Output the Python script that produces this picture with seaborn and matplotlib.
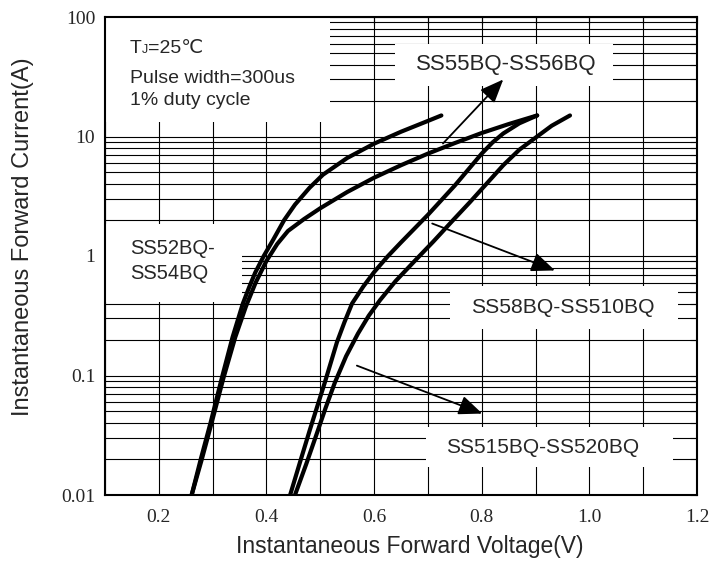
import numpy as np
import pandas as pd
import matplotlib
matplotlib.use("Agg")
import matplotlib.pyplot as plt
import seaborn as sns
from matplotlib.ticker import MultipleLocator, LogLocator, FixedLocator, FixedFormatter, NullFormatter
from matplotlib.patches import Rectangle

# ---------------- data ----------------
series_names = ["SS52BQ-SS54BQ", "SS55BQ-SS56BQ", "SS58BQ-SS510BQ", "SS515BQ-SS520BQ"]

v_52 = [0.261, 0.278, 0.296, 0.317, 0.337, 0.356, 0.368, 0.379, 0.395, 0.413, 0.433,
        0.453, 0.48, 0.505, 0.55, 0.60, 0.65, 0.70, 0.725]
i_52 = [0.01, 0.020, 0.040, 0.095, 0.209, 0.398, 0.55, 0.724, 1.0, 1.38, 2.0,
        2.69, 3.72, 4.79, 6.61, 8.71, 10.96, 13.5, 15.0]

v_55 = [0.261, 0.280, 0.298, 0.320, 0.342, 0.362, 0.38, 0.40, 0.42, 0.44, 0.47,
        0.50, 0.55, 0.60, 0.65, 0.70, 0.75, 0.80, 0.85, 0.903]
i_55 = [0.01, 0.020, 0.040, 0.095, 0.209, 0.38, 0.60, 0.91, 1.26, 1.62, 2.04,
        2.51, 3.43, 4.52, 5.75, 7.19, 8.81, 10.7, 12.7, 15.0]

v_58 = [0.444, 0.462, 0.481, 0.509, 0.531, 0.545, 0.559, 0.58, 0.60, 0.625, 0.65, 0.70,
        0.75, 0.80, 0.82, 0.84, 0.87, 0.903]
i_58 = [0.01, 0.0186, 0.0355, 0.089, 0.19, 0.28, 0.40, 0.556, 0.733, 0.99, 1.30, 2.21,
        3.89, 7.19, 8.91, 10.6, 12.9, 15.0]

v_515 = [0.453, 0.474, 0.494, 0.51, 0.527, 0.548, 0.57, 0.59, 0.611, 0.64, 0.68,
         0.71, 0.747, 0.778, 0.80, 0.84, 0.87, 0.90, 0.93, 0.964]
i_515 = [0.01, 0.0182, 0.0331, 0.0537, 0.087, 0.145, 0.224, 0.316, 0.427, 0.617, 0.955,
         1.32, 2.0, 2.82, 3.63, 5.75, 7.76, 9.77, 12.3, 15.0]

x_ticks = [0.2, 0.4, 0.6, 0.8, 1.0, 1.2]
x_tick_labels = ["0.2", "0.4", "0.6", "0.8", "1.0", "1.2"]
y_ticks = [0.01, 0.1, 1, 10, 100]
y_tick_labels = ["0.01", "0.1", "1", "10", "100"]

# white label boxes (x0, x1, y0, y1) in data units
box_tj = (0.1, 0.518, 13.35, 100)
box_55 = (0.639, 1.044, 26.7, 59.9)
box_52 = (0.1, 0.355, 0.416, 1.84)
box_58 = (0.741, 1.165, 0.247, 0.556)
box_515 = (0.697, 1.156, 0.017, 0.0374)

# arrows: (start, tip)
arrow_55 = ((0.728, 8.74), (0.840, 30.0))
arrow_58 = ((0.708, 1.87), (0.936, 0.757))
arrow_515 = ((0.568, 0.121), (0.801, 0.048))

# ---------------- styling ----------------
sns.set_style("white")
plt.rcParams["font.family"] = ["Liberation Sans", "DejaVu Sans"]

fig = plt.figure(figsize=(7.12, 5.63), dpi=100)
ax = fig.add_axes([105 / 712, 68 / 563, 592 / 712, 478 / 563])

frames = []
for name, v, i in [(series_names[0], v_52, i_52), (series_names[1], v_55, i_55),
                   (series_names[2], v_58, i_58), (series_names[3], v_515, i_515)]:
    frames.append(pd.DataFrame({"V": v, "I": i, "series": name}))
df = pd.concat(frames, ignore_index=True)

ax.set_yscale("log")
sns.lineplot(data=df, x="V", y="I", hue="series", palette=["black"] * 4,
             lw=3.0, legend=False, sort=False, estimator=None, ax=ax, zorder=3,
             solid_capstyle="round", solid_joinstyle="round")

ax.set_xlim(0.1, 1.2)
ax.set_ylim(0.01, 100)

ax.xaxis.set_major_locator(FixedLocator(x_ticks))
ax.xaxis.set_major_formatter(FixedFormatter(x_tick_labels))
ax.xaxis.set_minor_locator(MultipleLocator(0.1))
ax.yaxis.set_major_locator(FixedLocator(y_ticks))
ax.yaxis.set_major_formatter(FixedFormatter(y_tick_labels))
ax.yaxis.set_minor_locator(LogLocator(base=10, subs=np.arange(2, 10)))
ax.yaxis.set_minor_formatter(NullFormatter())

ax.set_axisbelow(True)
ax.grid(which="both", color="black", lw=0.8)

ax.tick_params(which="both", direction="in", top=True, right=True, length=5,
               width=0.8, color="black")
ax.tick_params(axis="x", which="major", pad=10)
ax.tick_params(axis="y", which="major", pad=7)
for lab in ax.get_xticklabels() + ax.get_yticklabels():
    lab.set_fontfamily(["Liberation Serif", "DejaVu Serif"])
    lab.set_fontsize(14)

for s in ax.spines.values():
    s.set_color("black")
    s.set_linewidth(1.5)
    s.set_zorder(4)

ax.set_xlabel("Instantaneous Forward Voltage(V)", fontsize=16.5)
ax.set_ylabel("Instantaneous Forward Current(A)", fontsize=17)
ax.xaxis.set_label_coords(0.514, -0.083)
ax.yaxis.set_label_coords(-0.12, 0.54)

for (x0, x1, y0, y1) in [box_tj, box_55, box_52, box_58, box_515]:
    ax.add_patch(Rectangle((x0, y0), x1 - x0, y1 - y0, facecolor="white",
                           edgecolor="none", zorder=1))

# texts
t_T = ax.text(0.1465, 54.5, "T", fontsize=14, va="center", ha="left", zorder=5)
t_J = ax.annotate("J", xy=(1, 0.05), xycoords=t_T, fontsize=9, ha="left", va="bottom", zorder=5)
ax.annotate("=25℃", xy=(1, 0), xycoords=(t_J, t_T), fontsize=14, ha="left", va="bottom", zorder=5)
ax.text(0.1465, 30.5, "Pulse width=300us", fontsize=14, va="center", ha="left", zorder=5)
ax.text(0.1465, 20.0, "1% duty cycle", fontsize=14, va="center", ha="left", zorder=5)

ax.text(0.845, 39.7, series_names[1], fontsize=16, va="center", ha="center", zorder=5)
ax.text(0.146, 1.156, "SS52BQ-", fontsize=14.5, va="center", ha="left", zorder=5)
ax.text(0.146, 0.715, "SS54BQ", fontsize=14.5, va="center", ha="left", zorder=5)
ax.text(0.951, 0.371, series_names[2], fontsize=15.2, va="center", ha="center", zorder=5)
ax.text(0.914, 0.0249, series_names[3], fontsize=15, va="center", ha="center", zorder=5)

for (start, tip) in [arrow_55, arrow_58, arrow_515]:
    ax.annotate("", xy=tip, xytext=start, zorder=5,
                arrowprops=dict(arrowstyle="-|>,head_length=0.8,head_width=0.33",
                                color="black", lw=1.3, mutation_scale=18,
                                shrinkA=0, shrinkB=0))

fig.savefig("out.png", dpi=100)
